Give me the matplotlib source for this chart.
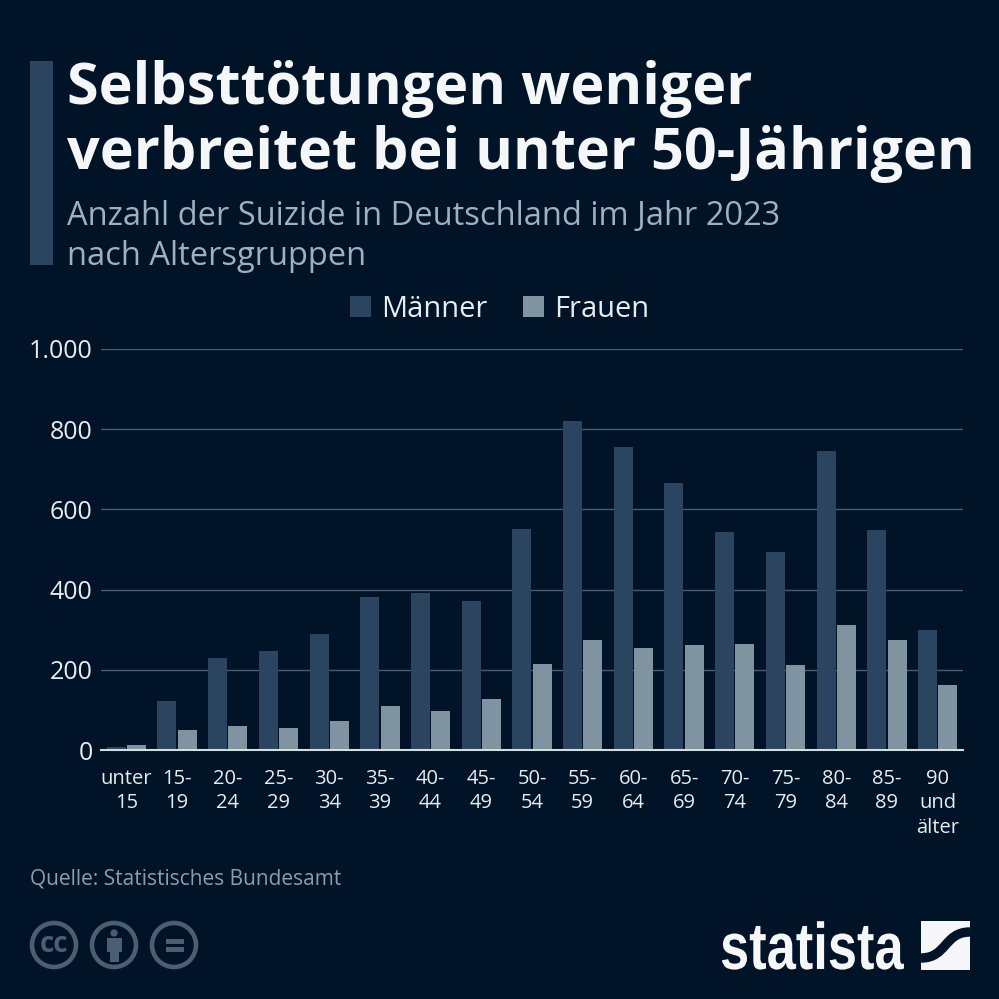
#!/usr/bin/env python
"""Suizide in Deutschland 2023 nach Altersgruppen, Statista-Stil."""

import matplotlib

matplotlib.use("Agg")
import matplotlib.patheffects as pe  # noqa: E402
import matplotlib.pyplot as plt  # noqa: E402
import numpy as np  # noqa: E402
from matplotlib.patches import Circle, PathPatch, Rectangle  # noqa: E402
from matplotlib.path import Path  # noqa: E402
from matplotlib.transforms import Affine2D  # noqa: E402

BG = "#001327"
DARK = "#2b4460"
LIGHT = "#8093a1"
ICON = "#4a5f73"

age_labels = [
    "unter\n15", "15-\n19", "20-\n24", "25-\n29", "30-\n34", "35-\n39",
    "40-\n44", "45-\n49", "50-\n54", "55-\n59", "60-\n64", "65-\n69",
    "70-\n74", "75-\n79", "80-\n84", "85-\n89", "90\nund\nälter",
]
maenner = [8, 123, 230, 248, 290, 382, 391, 372, 551, 820, 755, 667, 544, 494, 745, 549, 300]
frauen = [12, 50, 60, 56, 73, 110, 98, 127, 214, 274, 254, 262, 265, 213, 312, 274, 161]
y_ticks = [0, 200, 400, 600, 800, 1000]
y_tick_labels = ["0", "200", "400", "600", "800", "1.000"]


class Squeeze(pe.AbstractPathEffect):
    """Narrow the glyphs horizontally around a pixel x (no condensed font installed)."""

    def __init__(self, anchor_x, sx):
        super().__init__()
        self.anchor_x = anchor_x
        self.sx = sx

    def draw_path(self, renderer, gc, tpath, affine, rgbFace=None):
        squeeze = Affine2D().translate(-self.anchor_x, 0).scale(self.sx, 1).translate(self.anchor_x, 0)
        renderer.draw_path(gc, tpath, affine + squeeze, rgbFace)


plt.rcParams["font.family"] = ["Open Sans", "DejaVu Sans"]

W = 999
fig = plt.figure(figsize=(W / 100, W / 100), dpi=100, facecolor=BG)

# Overlay in pixel coordinates for the header and footer furniture
deco = fig.add_axes([0, 0, 1, 1])
deco.set_xlim(0, W)
deco.set_ylim(W, 0)
deco.axis("off")

deco.add_patch(Rectangle((30, 61), 23, 204, fc=DARK, ec="none"))
deco.text(67, 104, "Selbsttötungen weniger", fontsize=41.4, fontweight="bold",
          color="#f4f6f8", va="baseline", ha="left")
deco.text(67, 169, "verbreitet bei unter 50-Jährigen", fontsize=41.4, fontweight="bold",
          color="#f4f6f8", va="baseline", ha="left")
deco.text(67, 225, "Anzahl der Suizide in Deutschland im Jahr 2023", fontsize=23.5,
          color="#9fb1be", va="baseline", ha="left")
deco.text(67, 265, "nach Altersgruppen", fontsize=23.5,
          color="#9fb1be", va="baseline", ha="left")

# Legend
deco.add_patch(Rectangle((350, 296), 21, 21, fc=DARK, ec="none"))
deco.text(381.5, 317, "Männer", fontsize=20.9, color="#e8ecef", va="baseline", ha="left")
deco.add_patch(Rectangle((523, 296), 21, 21, fc=LIGHT, ec="none"))
deco.text(554.5, 317, "Frauen", fontsize=20.9, color="#e8ecef", va="baseline", ha="left")

deco.text(30, 879, "Quelle: Statistisches Bundesamt", fontsize=15, color="#8c9dab",
          va="center", ha="left")

# Creative Commons icons
for cx in (54, 114, 174):
    deco.add_patch(Circle((cx, 945), 22, fc="none", ec=ICON, lw=3.3))
deco.text(54, 944, "cc", fontsize=20, fontweight="bold", color=ICON, ha="center", va="center")
deco.add_patch(Circle((114, 933), 3.6, fc=ICON, ec="none"))
deco.add_patch(Rectangle((107, 938), 15, 14, fc=ICON, ec="none"))
deco.add_patch(Rectangle((110, 952), 9, 10, fc=ICON, ec="none"))
deco.add_patch(Rectangle((166, 939), 18, 5, fc=ICON, ec="none"))
deco.add_patch(Rectangle((166, 947), 18, 5, fc=ICON, ec="none"))

# Statista logo
deco.text(720, 969, "statista", fontsize=47.5, fontweight="bold", color="#f4f6f8",
          family=["Liberation Sans", "DejaVu Sans"], ha="left", va="baseline",
          path_effects=[Squeeze(720, 0.795)])
logo_box = Rectangle((921, 921), 49, 49, fc="#f4f6f8", ec="none")
deco.add_patch(logo_box)
band = PathPatch(
    Path([(921, 958), (947, 958), (944, 932), (970, 932)],
         [Path.MOVETO, Path.CURVE4, Path.CURVE4, Path.CURVE4]),
    fc="none", ec=BG, lw=6.8, capstyle="butt",
)
deco.add_patch(band)
band.set_clip_path(logo_box)

# Chart
left, right, top, bottom = 101, 963, 349, 750
ax = fig.add_axes([left / W, 1 - bottom / W, (right - left) / W, (bottom - top) / W])
ax.set_facecolor("none")
x = np.arange(len(age_labels))
ax.bar(x - 0.2, maenner, width=0.375, color=DARK, zorder=3)
ax.bar(x + 0.2, frauen, width=0.375, color=LIGHT, zorder=3)

ax.set_xlim(-0.5, len(age_labels) - 0.5)
ax.set_ylim(0, 1000)
ax.set_yticks(y_ticks)
ax.set_yticklabels(y_tick_labels, fontsize=18, color="#e8ecef")
ax.set_xticks(x)
ax.set_xticklabels(age_labels, fontsize=14.5, color="#e8ecef", linespacing=1.31)
ax.tick_params(axis="both", length=0)
ax.tick_params(axis="y", pad=6)
ax.tick_params(axis="x", pad=13.5)
ax.grid(axis="y", color="#4a5d70", lw=1, zorder=1)
for side in ("top", "left", "right"):
    ax.spines[side].set_visible(False)
ax.spines["bottom"].set_color("#d5dce2")
ax.spines["bottom"].set_linewidth(1.5)
ax.spines["bottom"].set_zorder(4)

fig.savefig("out.png", dpi=100, facecolor=BG)
